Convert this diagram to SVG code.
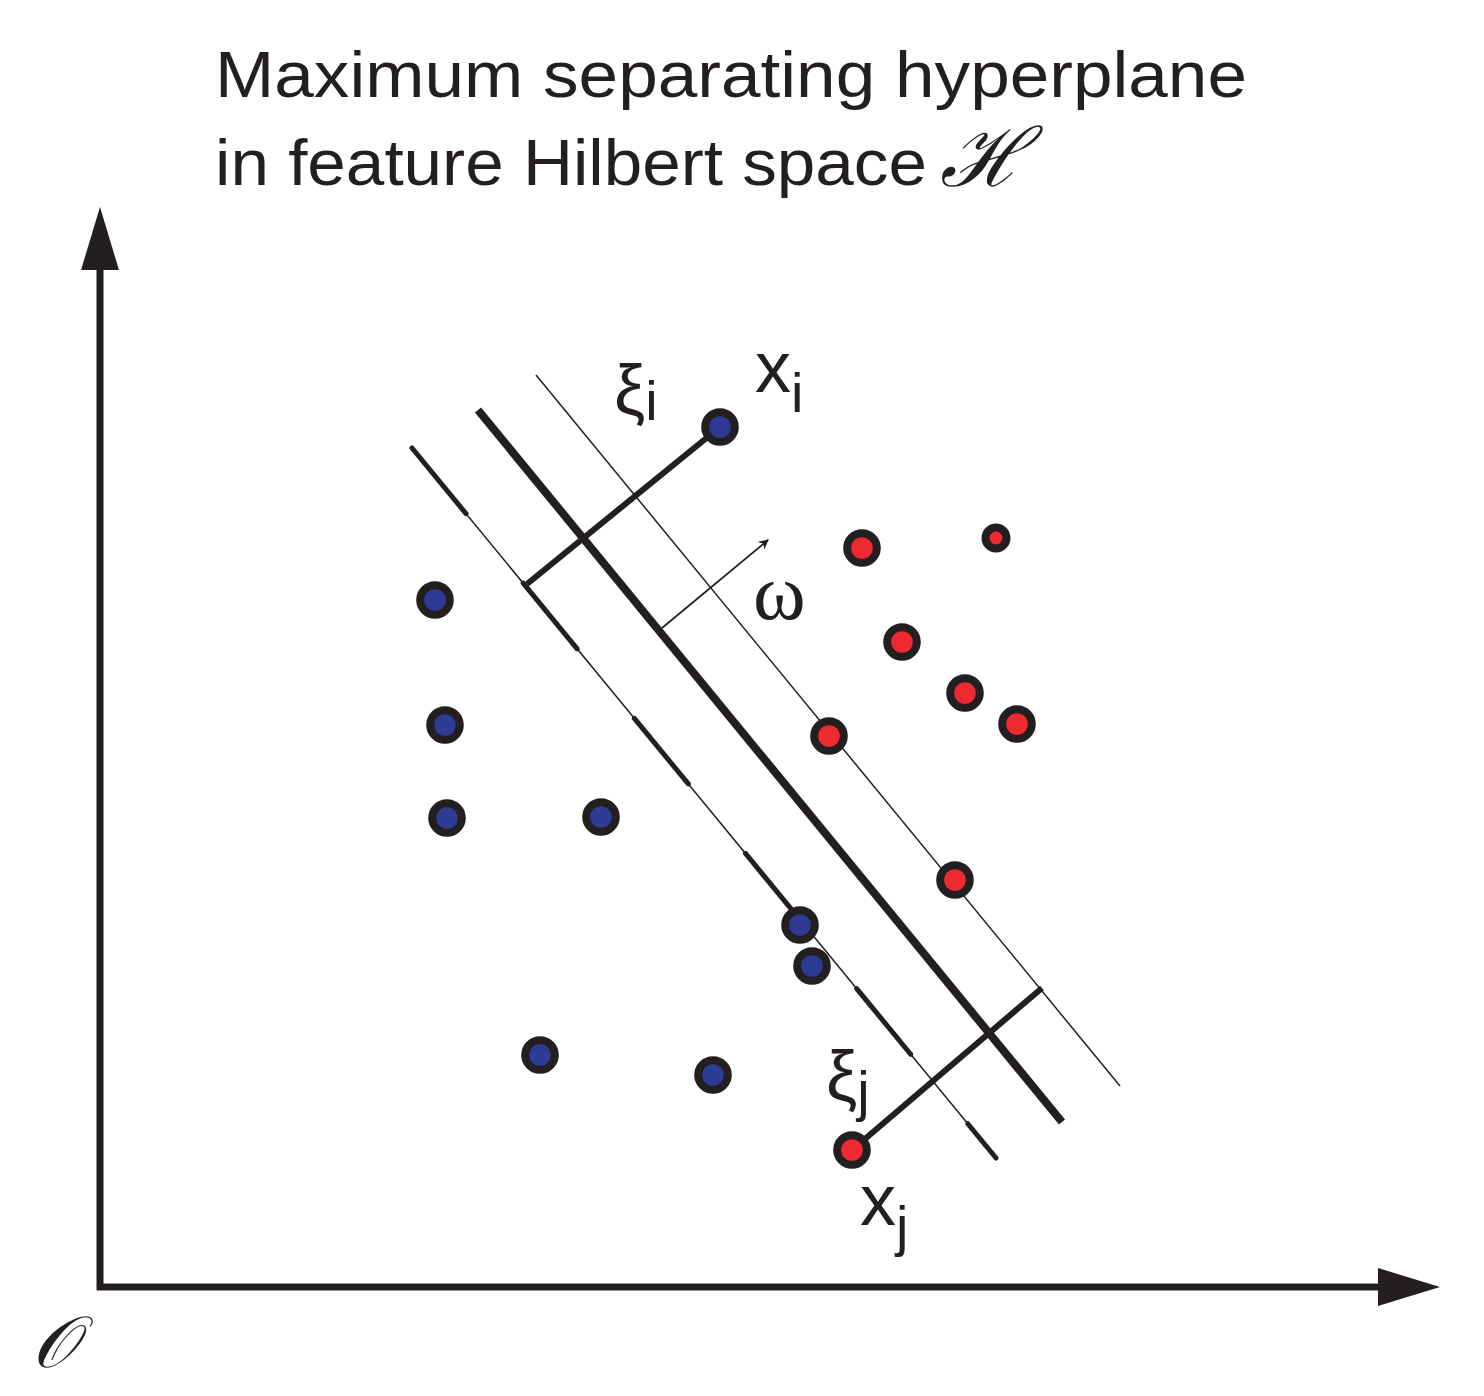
<svg xmlns="http://www.w3.org/2000/svg" width="1484" height="1396" viewBox="0 0 1484 1396">
<style>
.ink{stroke:#231f20;fill:none}
.t{font-family:"Liberation Sans",Arial,sans-serif;fill:#231f20}
.s{font-family:"Liberation Serif","DejaVu Serif",serif;fill:#231f20}
.blue circle{fill:#2e3b95;stroke:#231f20;stroke-width:8}
.red circle{fill:#ec2a30;stroke:#231f20;stroke-width:8}
</style>
<defs>
<marker id="ah" viewBox="0 0 10 10" refX="9" refY="5" markerWidth="10" markerHeight="10" markerUnits="userSpaceOnUse" orient="auto">
<path d="M0,0 L10,5 L0,10 L3,5 Z" fill="#231f20"/>
</marker>
</defs>
<rect width="1484" height="1396" fill="#fff"/>
<g id="title">
<text class="t" x="215" y="97" font-size="64" textLength="1032" lengthAdjust="spacingAndGlyphs">Maximum separating hyperplane</text>
<text class="t" x="215" y="185" font-size="64" textLength="712" lengthAdjust="spacingAndGlyphs">in feature Hilbert space</text>
<text class="s" x="940" y="186" font-size="82" font-style="italic">ℋ</text>
</g>
<g id="axes">
<line class="ink" x1="100" y1="1290" x2="100" y2="265" stroke-width="7"/>
<polygon points="100,207 119,270 81,270" fill="#231f20"/>
<line class="ink" x1="97" y1="1287" x2="1385" y2="1287" stroke-width="7"/>
<polygon points="1440,1287 1378,1306 1378,1268" fill="#231f20"/>
<text id="origin" class="s" x="32" y="1367" font-size="72" font-style="italic">𝒪</text>
</g>
<g id="connectors">
<line id="margin-left" class="ink" x1="412" y1="448" x2="996" y2="1158" stroke-width="1.5"/>
<line id="margin-left-thick" class="ink" x1="412" y1="448" x2="996" y2="1158" stroke-width="5" stroke-dasharray="85 90" stroke-linecap="round"/>
<line id="hyperplane" class="ink" x1="478" y1="410" x2="1062" y2="1122" stroke-width="8"/>
<line id="margin-right" class="ink" x1="536" y1="375" x2="1120" y2="1086" stroke-width="1.5"/>
<line id="xi-i" class="ink" x1="720" y1="427" x2="527" y2="584" stroke-width="6"/>
<line id="xi-j" class="ink" x1="852" y1="1150" x2="1042" y2="988" stroke-width="6"/>
<line id="omega" class="ink" x1="662" y1="628" x2="768" y2="540" stroke-width="1.8" marker-end="url(#ah)"/>
</g>
<g id="blue-points" class="blue">
<circle id="xi" cx="720" cy="427" r="14.8"/>
<circle cx="435" cy="600" r="14.8"/>
<circle cx="445" cy="725" r="14.8"/>
<circle cx="447" cy="818" r="14.8"/>
<circle cx="601" cy="817" r="14.8"/>
<circle cx="800" cy="925" r="14.8"/>
<circle cx="812" cy="966" r="14.8"/>
<circle cx="540" cy="1055" r="14.8"/>
<circle cx="713" cy="1075" r="14.8"/>
</g>
<g id="red-points" class="red">
<circle cx="862" cy="548" r="14.8"/>
<circle cx="996" cy="538" r="10.5"/>
<circle cx="902" cy="642" r="14.8"/>
<circle cx="965" cy="693" r="14.8"/>
<circle cx="1017" cy="724" r="14.8"/>
<circle cx="829" cy="736" r="14.8"/>
<circle cx="955" cy="880" r="14.8"/>
<circle id="xj" cx="852" cy="1150" r="14.8"/>
</g>
<g id="labels">
<text class="t" x="614" y="414" font-size="70">ξ<tspan font-size="56" dy="6">i</tspan></text>
<text class="t" x="755" y="392" font-size="72">x<tspan font-size="56" dy="20">i</tspan></text>
<text class="t" x="826" y="1100" font-size="70">ξ<tspan font-size="56" dy="10">j</tspan></text>
<text class="t" x="860" y="1225" font-size="72">x<tspan font-size="56" dy="20">j</tspan></text>
<text class="s" x="753" y="619" font-size="80">ω</text>
</g>
</svg>
